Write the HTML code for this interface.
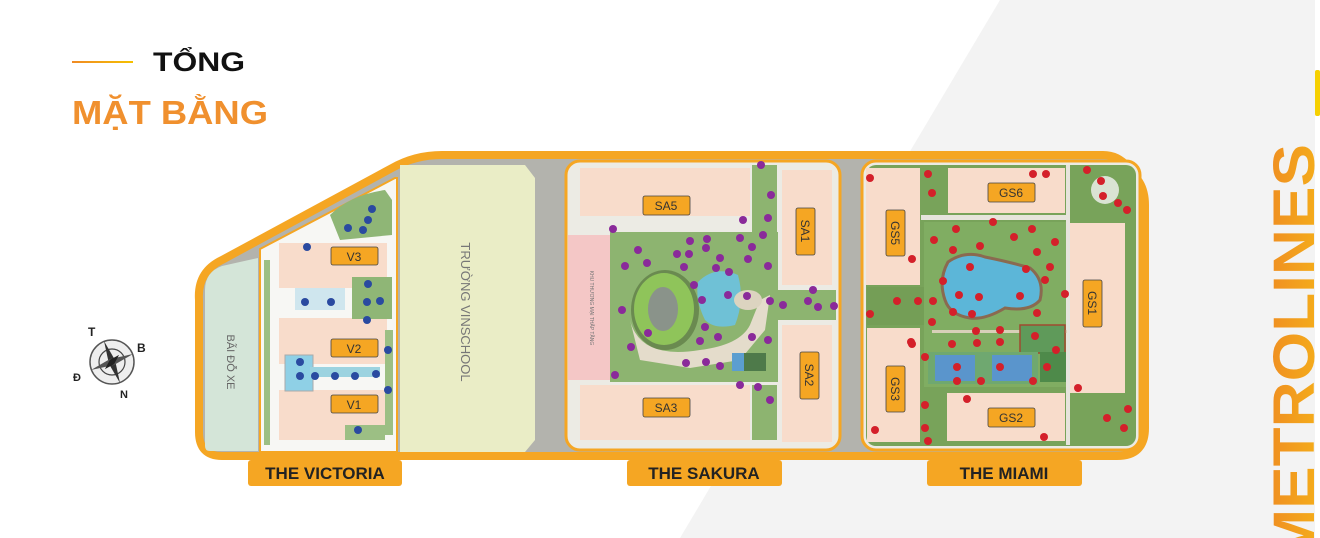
<!DOCTYPE html>
<html><head><meta charset="utf-8"><style>
html,body{margin:0;padding:0;background:#fff;width:1320px;height:538px;overflow:hidden}
svg{display:block}
text{font-family:"Liberation Sans",sans-serif}
</style></head><body>
<svg width="1320" height="538" viewBox="0 0 1320 538" xmlns="http://www.w3.org/2000/svg">
<defs>
<linearGradient id="mg" x1="0" y1="1" x2="0" y2="0" gradientUnits="objectBoundingBox">
<stop offset="0" stop-color="#f5b21a"/><stop offset="1" stop-color="#ef8a22"/></linearGradient>
<linearGradient id="lg" x1="0" x2="1"><stop offset="0" stop-color="#f08a24"/><stop offset="1" stop-color="#f5c000"/></linearGradient>
</defs>
<rect width="1320" height="538" fill="#fff"/>
<polygon points="1000,0 1315,0 1315,538 680,538" fill="#f3f3f3"/>
<rect x="1315" y="70" width="5" height="46" rx="2" fill="#f6d000"/>
<text transform="translate(1314,562) rotate(-90)" font-size="58" font-weight="bold" fill="url(#mg)" textLength="418" lengthAdjust="spacingAndGlyphs">METROLINES</text>

<!-- title -->
<rect x="72" y="61" width="61" height="2" fill="url(#lg)"/>
<text x="153" y="71" font-size="27" font-weight="bold" fill="#111" textLength="92" lengthAdjust="spacingAndGlyphs">TỔNG</text>
<text x="72" y="124" font-size="33" font-weight="bold" fill="#f0902e" textLength="196" lengthAdjust="spacingAndGlyphs">MẶT BẰNG</text>

<!-- compass -->
<g transform="translate(112,362)">
<circle r="22" fill="#eee" stroke="#555" stroke-width="1.5"/>
<circle r="13" fill="none" stroke="#444" stroke-width="1.2"/>
<polygon points="-8,-21 3,-2 8,21 -3,2" fill="#333"/>
<polygon points="21,-8 2,3 -21,8 -2,-3" fill="#555"/>
<polygon points="0,-10 3,0 0,10 -3,0" fill="#222" transform="rotate(45)"/>
</g>
<text x="88" y="336" font-size="12" font-weight="bold" fill="#222">T</text>
<text x="137" y="352" font-size="12" font-weight="bold" fill="#222">B</text>
<text x="73" y="381" font-size="11" font-weight="bold" fill="#222">Đ</text>
<text x="120" y="398" font-size="11" font-weight="bold" fill="#222">N</text>

<!-- outer map -->
<path d="M199,300 Q197,272 222,260 L392,168 Q415,155 442,155 L1103,155 Q1118,155 1128,167 L1138,180 Q1145,190 1145,205 L1145,428 Q1145,456 1117,456 L222,456 Q199,456 199,432 Z" fill="#b3b3ad" stroke="#f5a623" stroke-width="8"/>
<!-- parking -->
<path d="M205,290 Q205,272 222,266 L258,258 L258,451 L210,451 Q205,451 205,446 Z" fill="#d4e5d8"/>
<text transform="translate(227,362) rotate(90)" font-size="11" fill="#666" text-anchor="middle">BÃI ĐỖ XE</text>

<!-- victoria -->
<polygon points="260,249 395,178 397,178 397,452 260,452" fill="#f7f7f4" stroke="#f5a623" stroke-width="2"/>
<rect x="279" y="243" width="108" height="45" fill="#f8dccb"/>
<rect x="279" y="318" width="108" height="46" fill="#f8dccb"/>
<rect x="279" y="390" width="106" height="50" fill="#f8dccb"/>
<rect x="352" y="277" width="40" height="42" fill="#8fb676"/>
<rect x="285" y="355" width="28" height="36" fill="#8fd0e6" stroke="#aaa" stroke-width="1"/>
<rect x="310" y="367" width="70" height="10" fill="#9cd3e0"/>
<rect x="295" y="288" width="50" height="22" fill="#cfe6ee"/>
<path d="M330,215 Q350,195 385,190 L392,200 L392,235 L340,240 Z" fill="#8fb676"/>
<rect x="264" y="260" width="6" height="185" fill="#9cbf84"/>
<rect x="385" y="330" width="8" height="105" fill="#9cbf84"/>
<rect x="345" y="425" width="40" height="15" fill="#9cbf84"/>
<g fill="#f5a623" stroke="#444" stroke-width="0.8">
<rect x="331" y="247" width="47" height="18" rx="2"/><rect x="331" y="339" width="47" height="18" rx="2"/><rect x="331" y="395" width="47" height="18" rx="2"/></g>
<g font-size="12" fill="#333" text-anchor="middle"><text x="354" y="261">V3</text><text x="354" y="353">V2</text><text x="354" y="409">V1</text></g>
<g fill="#2a4aa0"><circle cx="372" cy="209" r="4"/><circle cx="368" cy="220" r="4"/><circle cx="348" cy="228" r="4"/><circle cx="363" cy="230" r="4"/><circle cx="307" cy="247" r="4"/><circle cx="368" cy="284" r="4"/><circle cx="305" cy="302" r="4"/><circle cx="331" cy="302" r="4"/><circle cx="367" cy="302" r="4"/><circle cx="367" cy="320" r="4"/><circle cx="380" cy="301" r="4"/><circle cx="300" cy="362" r="4"/><circle cx="300" cy="376" r="4"/><circle cx="315" cy="376" r="4"/><circle cx="335" cy="376" r="4"/><circle cx="355" cy="376" r="4"/><circle cx="376" cy="374" r="4"/><circle cx="388" cy="350" r="4"/><circle cx="388" cy="390" r="4"/><circle cx="358" cy="430" r="4"/></g>

<!-- vinschool -->
<polygon points="400,165 525,165 535,178 535,440 525,452 400,452" fill="#eaedc6"/>
<text transform="translate(461,312) rotate(90)" font-size="13" fill="#777" text-anchor="middle">TRƯỜNG VINSCHOOL</text>

<!-- sakura -->
<rect x="566" y="161" width="274" height="289" rx="14" fill="#ecebe4" stroke="#f5a623" stroke-width="3"/>
<rect x="580" y="168" width="170" height="48" fill="#f8dccb"/>
<rect x="580" y="385" width="170" height="55" fill="#f8dccb"/>
<rect x="782" y="170" width="50" height="115" fill="#f8dccb"/>
<rect x="782" y="325" width="50" height="117" fill="#f8dccb"/>
<rect x="568" y="235" width="42" height="145" fill="#f4c7c6"/>
<text transform="translate(590,308) rotate(90)" font-size="5" fill="#777" text-anchor="middle">KHU THƯƠNG MẠI THẤP TẦNG</text>
<rect x="610" y="232" width="168" height="150" fill="#8db470"/>
<rect x="752" y="165" width="25" height="68" fill="#8db470"/>
<rect x="752" y="385" width="25" height="55" fill="#8db470"/>
<rect x="778" y="290" width="58" height="30" fill="#8db470"/>
<path d="M630,320 Q640,360 700,350 Q740,345 750,325 L760,300 L770,295 L765,330 L740,360 L690,368 L640,360 Z" fill="#e4dccb"/>
<ellipse cx="665" cy="310" rx="34" ry="40" fill="#6a8a50"/>
<ellipse cx="664" cy="309" rx="30" ry="36" fill="#8fc45a"/>
<ellipse cx="663" cy="309" rx="15" ry="22" fill="#8a938a"/>
<path d="M698,282 Q715,265 738,275 Q745,300 735,325 Q715,330 705,320 Q695,300 698,282 Z" fill="#6fc1d6"/>
<ellipse cx="748" cy="300" rx="14" ry="10" fill="#dcd4c0"/>
<rect x="732" y="353" width="12" height="18" fill="#5b9ed0"/>
<rect x="744" y="353" width="22" height="18" fill="#4e7a4a"/>
<g fill="#f5a623" stroke="#444" stroke-width="0.8">
<rect x="643" y="196" width="47" height="19" rx="2"/><rect x="643" y="398" width="47" height="19" rx="2"/>
<rect x="796" y="208" width="19" height="47" rx="2"/><rect x="800" y="352" width="19" height="47" rx="2"/></g>
<g font-size="12" fill="#333" text-anchor="middle"><text x="666" y="210">SA5</text><text x="666" y="412">SA3</text></g>
<text transform="translate(801,231) rotate(90)" font-size="12" fill="#333" text-anchor="middle">SA1</text>
<text transform="translate(805,375) rotate(90)" font-size="12" fill="#333" text-anchor="middle">SA2</text>
<g fill="#8a2a9a"><circle cx="761" cy="165" r="4"/><circle cx="771" cy="195" r="4"/><circle cx="743" cy="220" r="4"/><circle cx="768" cy="218" r="4"/><circle cx="613" cy="229" r="4"/><circle cx="638" cy="250" r="4"/><circle cx="625" cy="266" r="4"/><circle cx="647" cy="263" r="4"/><circle cx="690" cy="241" r="4"/><circle cx="707" cy="239" r="4"/><circle cx="740" cy="238" r="4"/><circle cx="763" cy="235" r="4"/><circle cx="689" cy="254" r="4"/><circle cx="677" cy="254" r="4"/><circle cx="706" cy="248" r="4"/><circle cx="720" cy="258" r="4"/><circle cx="752" cy="247" r="4"/><circle cx="748" cy="259" r="4"/><circle cx="768" cy="266" r="4"/><circle cx="684" cy="267" r="4"/><circle cx="716" cy="268" r="4"/><circle cx="729" cy="272" r="4"/><circle cx="694" cy="285" r="4"/><circle cx="702" cy="300" r="4"/><circle cx="728" cy="295" r="4"/><circle cx="747" cy="296" r="4"/><circle cx="770" cy="301" r="4"/><circle cx="783" cy="305" r="4"/><circle cx="808" cy="301" r="4"/><circle cx="813" cy="290" r="4"/><circle cx="818" cy="307" r="4"/><circle cx="834" cy="306" r="4"/><circle cx="622" cy="310" r="4"/><circle cx="648" cy="333" r="4"/><circle cx="631" cy="347" r="4"/><circle cx="705" cy="327" r="4"/><circle cx="718" cy="337" r="4"/><circle cx="700" cy="341" r="4"/><circle cx="752" cy="337" r="4"/><circle cx="768" cy="340" r="4"/><circle cx="686" cy="363" r="4"/><circle cx="706" cy="362" r="4"/><circle cx="720" cy="366" r="4"/><circle cx="615" cy="375" r="4"/><circle cx="740" cy="385" r="4"/><circle cx="758" cy="387" r="4"/><circle cx="770" cy="400" r="4"/></g>

<!-- miami -->
<rect x="862" y="161" width="278" height="289" rx="14" fill="#ecebe4" stroke="#f5a623" stroke-width="3"/>
<rect x="866" y="165" width="270" height="281" rx="10" fill="#78a35a"/>
<rect x="921" y="215" width="145" height="5" fill="#e6e4dc"/>
<rect x="867" y="287" width="75" height="38" fill="#749e56"/>
<rect x="924" y="222" width="142" height="165" fill="#80ad62"/>
<rect x="866" y="168" width="54" height="117" fill="#f8dccb"/>
<rect x="867" y="328" width="53" height="114" fill="#f8dccb"/>
<rect x="948" y="168" width="117" height="45" fill="#f8dccb"/>
<rect x="947" y="393" width="118" height="48" fill="#f8dccb"/>
<rect x="1069" y="223" width="56" height="170" fill="#f8dccb"/>
<rect x="1066" y="165" width="4" height="280" fill="#e6e4dc"/>
<path d="M948,262 Q965,250 985,257 Q1010,262 1030,268 Q1045,280 1040,300 Q1030,312 1005,308 Q985,320 970,318 Q950,315 945,300 Q938,280 948,262 Z" fill="#5cb6d8" stroke="#8a6a50" stroke-width="3"/>
<rect x="932" y="330" width="135" height="3" fill="#d8d0b8"/>
<rect x="1020" y="325" width="45" height="28" fill="#5f9a5a" stroke="#a04a30" stroke-width="1.5"/>
<rect x="928" y="352" width="110" height="32" fill="#6fa870"/>
<rect x="935" y="355" width="40" height="26" fill="#5a95cc"/>
<rect x="992" y="355" width="40" height="26" fill="#5a95cc"/>
<rect x="1040" y="352" width="26" height="30" fill="#4e8a4a"/>
<circle cx="1105" cy="190" r="14" fill="#f2f2f2" opacity=".8"/>
<g fill="#f5a623" stroke="#444" stroke-width="0.8">
<rect x="988" y="183" width="47" height="19" rx="2"/><rect x="988" y="408" width="47" height="19" rx="2"/>
<rect x="886" y="210" width="19" height="46" rx="2"/><rect x="886" y="366" width="19" height="46" rx="2"/><rect x="1083" y="280" width="19" height="47" rx="2"/></g>
<g font-size="12" fill="#333" text-anchor="middle"><text x="1011" y="197">GS6</text><text x="1011" y="422">GS2</text></g>
<text transform="translate(891,233) rotate(90)" font-size="12" fill="#333" text-anchor="middle">GS5</text>
<text transform="translate(891,389) rotate(90)" font-size="12" fill="#333" text-anchor="middle">GS3</text>
<text transform="translate(1088,303) rotate(90)" font-size="12" fill="#333" text-anchor="middle">GS1</text>
<g fill="#d4202a"><circle cx="870" cy="178" r="4"/><circle cx="928" cy="174" r="4"/><circle cx="932" cy="193" r="4"/><circle cx="1033" cy="174" r="4"/><circle cx="1046" cy="174" r="4"/><circle cx="1087" cy="170" r="4"/><circle cx="1101" cy="181" r="4"/><circle cx="1103" cy="196" r="4"/><circle cx="1118" cy="203" r="4"/><circle cx="1127" cy="210" r="4"/><circle cx="956" cy="229" r="4"/><circle cx="993" cy="222" r="4"/><circle cx="1032" cy="229" r="4"/><circle cx="934" cy="240" r="4"/><circle cx="953" cy="250" r="4"/><circle cx="980" cy="246" r="4"/><circle cx="1014" cy="237" r="4"/><circle cx="1055" cy="242" r="4"/><circle cx="1037" cy="252" r="4"/><circle cx="970" cy="267" r="4"/><circle cx="1026" cy="269" r="4"/><circle cx="1050" cy="267" r="4"/><circle cx="943" cy="281" r="4"/><circle cx="1045" cy="280" r="4"/><circle cx="1065" cy="294" r="4"/><circle cx="959" cy="295" r="4"/><circle cx="979" cy="297" r="4"/><circle cx="1020" cy="296" r="4"/><circle cx="870" cy="314" r="4"/><circle cx="897" cy="301" r="4"/><circle cx="918" cy="301" r="4"/><circle cx="933" cy="301" r="4"/><circle cx="953" cy="312" r="4"/><circle cx="972" cy="314" r="4"/><circle cx="1037" cy="313" r="4"/><circle cx="932" cy="322" r="4"/><circle cx="976" cy="331" r="4"/><circle cx="1000" cy="330" r="4"/><circle cx="1035" cy="336" r="4"/><circle cx="952" cy="344" r="4"/><circle cx="977" cy="343" r="4"/><circle cx="1000" cy="342" r="4"/><circle cx="1056" cy="350" r="4"/><circle cx="912" cy="344" r="4"/><circle cx="925" cy="357" r="4"/><circle cx="957" cy="367" r="4"/><circle cx="1000" cy="367" r="4"/><circle cx="1047" cy="367" r="4"/><circle cx="957" cy="381" r="4"/><circle cx="981" cy="381" r="4"/><circle cx="1033" cy="381" r="4"/><circle cx="967" cy="399" r="4"/><circle cx="1078" cy="388" r="4"/><circle cx="1128" cy="409" r="4"/><circle cx="1107" cy="418" r="4"/><circle cx="1124" cy="428" r="4"/><circle cx="925" cy="405" r="4"/><circle cx="875" cy="430" r="4"/><circle cx="925" cy="428" r="4"/><circle cx="928" cy="441" r="4"/><circle cx="1044" cy="437" r="4"/><circle cx="912" cy="259" r="4"/><circle cx="911" cy="342" r="4"/></g>

<!-- bottom labels -->
<g fill="#f5a623"><rect x="248" y="460" width="154" height="26" rx="3"/><rect x="627" y="460" width="155" height="26" rx="3"/><rect x="927" y="460" width="155" height="26" rx="3"/></g>
<g font-size="17" font-weight="bold" fill="#222" text-anchor="middle"><text x="325" y="479">THE VICTORIA</text><text x="704" y="479">THE SAKURA</text><text x="1004" y="479">THE MIAMI</text></g>
</svg>
</body></html>
